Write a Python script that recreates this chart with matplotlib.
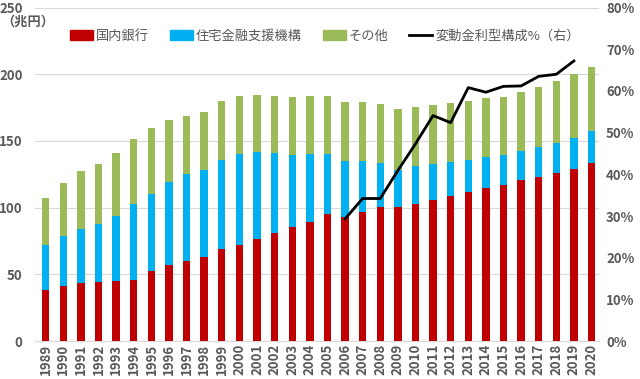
import numpy as np
import matplotlib
matplotlib.use("Agg")
import matplotlib.pyplot as plt
from matplotlib.patches import Patch
from matplotlib.lines import Line2D

plt.rcParams['font.family'] = ['Noto Sans CJK JP', 'DejaVu Sans']

#---Data (兆円)
years = list(range(1989, 2021))
banks = [38, 41, 43.7, 44, 44.7, 45.7, 52.7, 56.7, 60, 63, 69.4, 72, 76.4, 81, 85.6, 89.4,
         94.9, 93, 96.9, 100.6, 100.4, 102.9, 106, 109, 112, 115, 116.9, 120.6, 123, 126, 129, 133.5]
# cumulative tops, converted to segment heights below
blue_top = [72, 78.9, 84.4, 87.9, 94.1, 103, 110, 119, 125.6, 128, 135.6, 140.6, 141.8, 141.3, 139.8, 140.6,
            140.6, 134.8, 134.8, 133.6, 128.6, 131, 132.6, 134.3, 136, 138.2, 139.8, 142.5, 145.5, 148.5, 152.3, 157.3]
total = [106.9, 118.6, 127.3, 132.8, 141.3, 151.3, 159.6, 165.5, 168.5, 172, 180, 183.5, 184.3, 183.5, 183, 183.5,
         183.5, 179.3, 179, 177.5, 174.3, 175.8, 176.8, 178.3, 180.3, 182, 183, 186.5, 190.5, 195.3, 200, 205.5]
jhf = [b - a for a, b in zip(banks, blue_top)]
others = [t - b for b, t in zip(blue_top, total)]

# 変動金利型構成% (right axis), 2006-2019
rate_years = list(range(2006, 2020))
rate_pct = [29.3, 34.2, 34.2, 40.9, 47.3, 54.1, 52.4, 60.8, 59.7, 61.1, 61.2, 63.5, 64.0, 67.2]

RED = '#C00000'
BLUE = '#00B0F0'
GREEN = '#9BBB59'
GRAY = '#595959'
FS = 9.5

fig = plt.figure(figsize=(6.4, 3.79), dpi=100)
ax = fig.add_axes([0.055, 0.100, 0.881, 0.880])
x = np.arange(len(years))
w = 0.42

ax.bar(x, banks, w, color=RED, zorder=3)
ax.bar(x, jhf, w, bottom=banks, color=BLUE, zorder=3)
ax.bar(x, others, w, bottom=blue_top, color=GREEN, zorder=3)

ax.set_ylim(0, 250)
ax.set_yticks(range(0, 251, 50))
ax.set_xlim(-0.6, len(years) - 0.57)
ax.set_xticks(x)
ax.set_xticklabels([str(y) for y in years], rotation=90, fontsize=FS, color=GRAY, fontweight='bold')
ax.tick_params(axis='y', labelsize=FS, labelcolor=GRAY, length=0, pad=9)
ax.tick_params(axis='x', length=0, pad=2)
for lab in ax.get_yticklabels():
    lab.set_fontweight('bold')
ax.grid(axis='y', color='#D9D9D9', linewidth=0.8, zorder=0)
for s in ['top', 'right', 'left']:
    ax.spines[s].set_visible(False)
ax.spines['bottom'].set_color('#D9D9D9')

ax2 = ax.twinx()
rx = [years.index(y) for y in rate_years]
ax2.plot(rx, rate_pct, color='black', linewidth=2, zorder=5)
ax2.set_ylim(0, 80)
ax2.set_yticks(range(0, 81, 10))
ax2.set_yticklabels([f'{v}%' for v in range(0, 81, 10)])
ax2.tick_params(axis='y', labelsize=FS, labelcolor=GRAY, length=0, pad=5)
for lab in ax2.get_yticklabels():
    lab.set_fontweight('bold')
for s in ax2.spines.values():
    s.set_visible(False)

fig.text(0.002, 0.942, '（兆円）', fontsize=FS, color=GRAY, fontweight='bold', va='center', ha='left')

handles = [Patch(color=RED), Patch(color=BLUE), Patch(color=GREEN),
           Line2D([0], [0], color='black', linewidth=2)]
labels = ['国内銀行', '住宅金融支援機構', 'その他', '変動金利型構成%（右）']
fig.legend(handles, labels, loc='center', bbox_to_anchor=(0.508, 0.905), ncol=4, frameon=False,
           fontsize=FS, labelcolor=GRAY, handlelength=1.75, handleheight=0.7, handletextpad=0.25,
           columnspacing=1.55)

fig.savefig('out.png', dpi=100)
